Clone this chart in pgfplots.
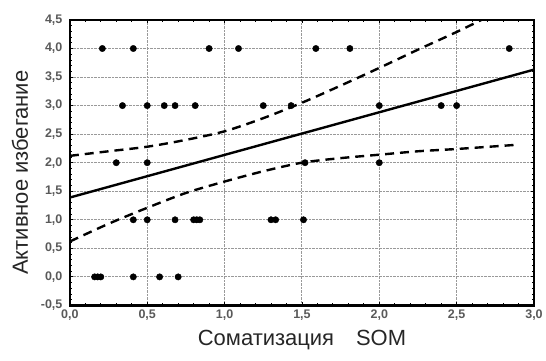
\documentclass[border=0pt]{standalone}
\usepackage{pgfplots}
\pgfplotsset{compat=1.18}
\usepackage{fontspec}
\setmainfont{Liberation Sans}
\begin{document}
\begin{tikzpicture}
\begin{axis}[
  scale only axis,
  width=465pt, height=286pt,
  xmin=0, xmax=3, ymin=-0.5, ymax=4.5,
  xtick={0,0.5,...,3}, ytick={-0.5,0,...,4.5},
  minor x tick num=4, minor y tick num=4,
  tick align=inside,
  major tick length=3pt, minor tick length=2pt,
  axis line style={line width=2.4pt},
  every tick/.style={black, line width=0.8pt},
  grid=major,
  major grid style={gray!80, densely dotted, line width=0.9pt},
  /pgf/number format/.cd, fixed, fixed zerofill, precision=1, use comma, assume math mode=true,
  /pgfplots/.cd,
  ticklabel style={font=\fontsize{12.5}{14}\selectfont\bfseries, text=black!65},
  xticklabel style={yshift=-1pt},
  yticklabel style={xshift=-4pt},
  xlabel={Соматизация\quad SOM},
  ylabel={Активное избегание},
  label style={font=\fontsize{22}{26}\selectfont, text=black!85},
  xlabel style={yshift=-3pt},
  ylabel style={yshift=6pt, xshift=-10pt},
]
\addplot[only marks, mark=*, mark size=3.2pt, black] coordinates {
 (0.21,4) (0.41,4) (0.90,4) (1.09,4) (1.59,4) (1.81,4) (2.84,4)
 (0.34,3) (0.50,3) (0.61,3) (0.68,3) (0.81,3) (1.25,3) (1.43,3) (2.00,3) (2.40,3) (2.50,3)
 (0.30,2) (0.50,2) (1.52,2) (2.00,2)
 (0.41,1) (0.50,1) (0.68,1) (0.80,1) (0.82,1) (0.84,1) (1.30,1) (1.33,1) (1.51,1)
 (0.16,0) (0.18,0) (0.20,0) (0.41,0) (0.58,0) (0.70,0)
};
\addplot[black, line width=2.4pt] coordinates {(0,1.39) (3,3.63)};
\addplot[black, line width=2.4pt, dash pattern=on 9pt off 6pt, smooth] coordinates {
 (0,2.12) (0.25,2.2) (0.5,2.28) (0.75,2.4) (1.0,2.55) (1.25,2.78) (1.5,3.05)
 (1.75,3.35) (2.0,3.66) (2.25,3.98) (2.5,4.29) (2.75,4.62)};
\addplot[black, line width=2.4pt, dash pattern=on 9pt off 6pt, smooth] coordinates {
 (0,0.62) (0.25,0.93) (0.5,1.21) (0.75,1.47) (1.0,1.67) (1.25,1.85) (1.5,2.0)
 (1.75,2.08) (2.0,2.14) (2.25,2.2) (2.5,2.24) (2.87,2.31)};
\end{axis}
\useasboundingbox (current axis.south west) ++(-70pt,-55pt) rectangle ([shift={(11pt,20pt)}]current axis.north east);
\end{tikzpicture}
\end{document}
